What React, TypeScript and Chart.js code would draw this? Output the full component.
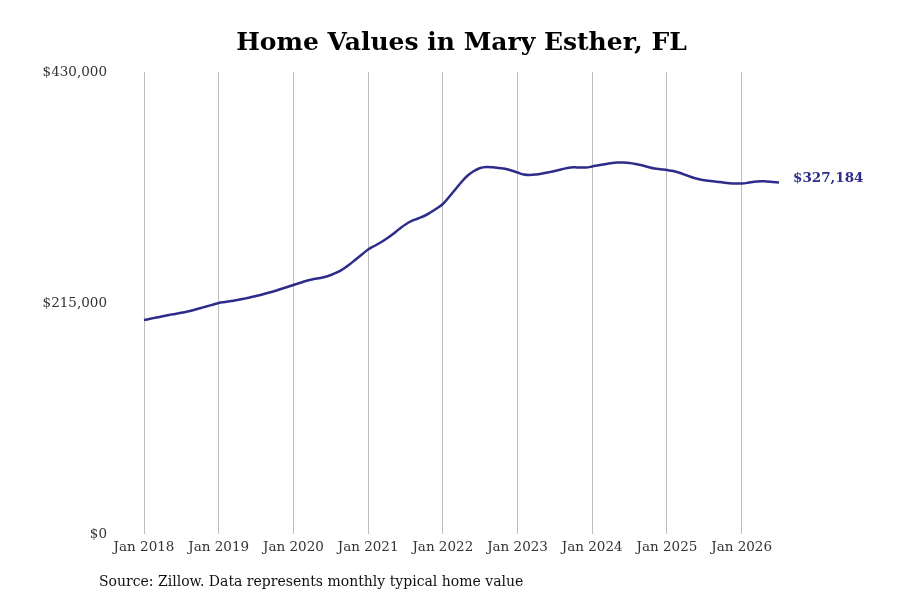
import React, { useEffect, useRef } from 'react'
import { Chart, registerables } from 'chart.js'

Chart.register(...registerables)

const monthNames = ['Jan', 'Feb', 'Mar', 'Apr', 'May', 'Jun', 'Jul', 'Aug', 'Sep', 'Oct', 'Nov', 'Dec']
const years = [2018, 2019, 2020, 2021, 2022, 2023, 2024, 2025, 2026]

// monthly typical home value, Jan 2018 .. Jul 2026
const homeValues = [
  199178, 200295, 201505, 202622, 203832, 204856, 205880, 207090, 208486, 210161, 211743, 213326,
  215001, 215932, 216862, 217793, 218910, 220120, 221516, 222912, 224494, 226170, 228031, 229893,
  231754, 233616, 235477, 236873, 237990, 239200, 241062, 243389, 246646, 250834, 255488, 260142,
  264796, 268053, 271311, 275034, 279222, 283876, 288064, 291322, 293648, 295975, 299233, 302956,
  307144, 313659, 320640, 327620, 333670, 337859, 340651, 341582, 341302, 340651, 339906, 338324,
  336463, 334601, 334136, 334601, 335532, 336649, 337859, 339255, 340651, 341302, 341116, 341116,
  342047, 343164, 344188, 345118, 345770, 345770, 345305, 344374, 343164, 341582, 340185, 339441,
  338789, 337859, 336277, 334136, 332088, 330413, 329203, 328551, 327900, 327155, 326504, 326224,
  326224, 326876, 327900, 328365, 328086, 327620, 327184,
]

const labels = years
  .flatMap((y) => monthNames.map((m) => `${m} ${y}`))
  .slice(0, homeValues.length)

const yTicks = [0, 215000, 430000]

const lineColor = '#2e2c8a'
const fontFamily = '"DejaVu Serif", serif'

const fmt = (v: number) => '$' + v.toLocaleString('en-US')

const textPlugin = {
  id: 'texts',
  afterDraw(chart: Chart) {
    const { ctx, chartArea } = chart
    ctx.save()
    ctx.textBaseline = 'middle'

    ctx.fillStyle = '#000'
    ctx.font = `bold 25px ${fontFamily}`
    ctx.textAlign = 'center'
    ctx.fillText('Home Values in Mary Esther, FL', (chartArea.left + chartArea.right) / 2, 43)

    ctx.fillStyle = '#111'
    ctx.font = `14px ${fontFamily}`
    ctx.textAlign = 'left'
    ctx.fillText('Source: Zillow. Data represents monthly typical home value', 99, 582)

    const pts = chart.getDatasetMeta(0).data
    const last = pts[pts.length - 1]
    ctx.fillStyle = lineColor
    ctx.font = `bold 13.5px ${fontFamily}`
    ctx.fillText(fmt(homeValues[homeValues.length - 1]), last.x + 14, last.y - 4)
    ctx.restore()
  },
}

function HomeValueChart() {
  const canvasRef = useRef<HTMLCanvasElement>(null)

  useEffect(() => {
    if (!canvasRef.current) return
    const chart = new Chart(canvasRef.current, {
      type: 'line',
      data: {
        labels,
        datasets: [
          {
            data: homeValues,
            borderColor: lineColor,
            borderWidth: 2.5,
            pointRadius: 0,
            tension: 0.4,
            fill: false,
          },
        ],
      },
      options: {
        animation: false,
        responsive: false,
        layout: { padding: { left: 0, right: 121, top: 72, bottom: 0 } },
        plugins: {
          legend: { display: false },
          tooltip: { enabled: false },
          title: { display: false },
        },
        scales: {
          x: {
            offset: false,
            border: { display: false },
            grid: {
              drawTicks: false,
              color: (c: any) => (c.index % 12 === 0 ? '#bdbdbd' : 'rgba(0,0,0,0)'),
              lineWidth: 1,
            },
            ticks: {
              autoSkip: false,
              maxRotation: 0,
              minRotation: 0,
              padding: 5,
              color: '#333',
              font: { family: fontFamily, size: 13.5 },
              callback: (_v: any, i: number) => (i % 12 === 0 ? labels[i] : ''),
            },
            afterFit: (s: any) => {
              s.height = 66
            },
          },
          y: {
            min: 0,
            max: 430000,
            border: { display: false },
            grid: { display: false, drawTicks: false },
            afterBuildTicks: (s: any) => {
              s.ticks = yTicks.map((v) => ({ value: v }))
            },
            ticks: {
              padding: 37,
              color: '#333',
              font: { family: fontFamily, size: 13.5 },
              callback: (v: any) => fmt(Number(v)),
            },
            afterFit: (s: any) => {
              s.width = 144
            },
          },
        },
      },
      plugins: [textPlugin],
    })
    return () => {
      chart.destroy()
    }
  }, [])

  return <canvas ref={canvasRef} width={900} height={600} />
}

export default function App() {
  return (
    <div style={{ position: 'fixed', left: 0, top: 0, width: 900, height: 600, background: '#fff' }}>
      <HomeValueChart />
    </div>
  )
}
